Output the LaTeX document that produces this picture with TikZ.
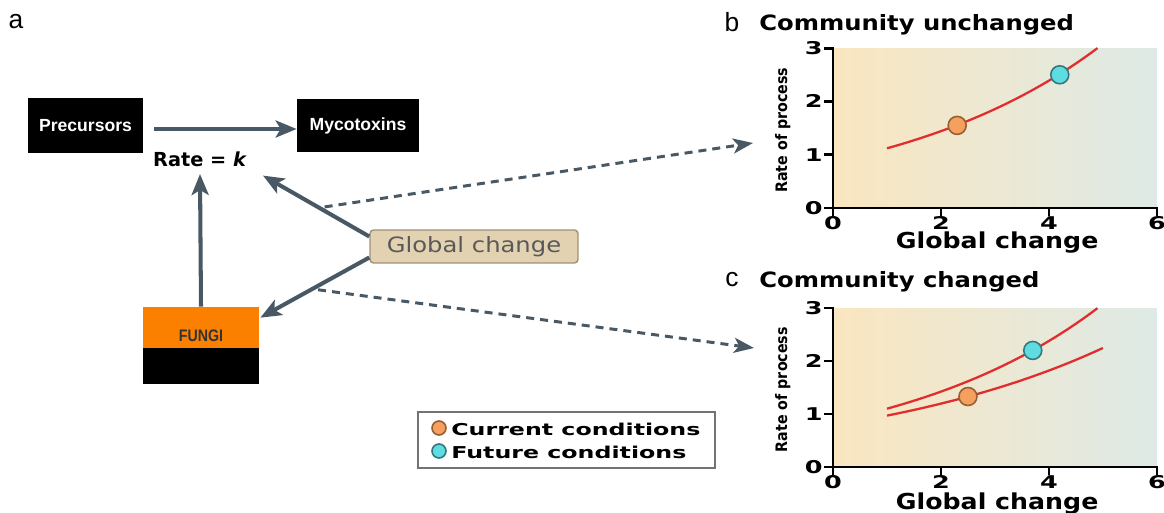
\documentclass[tikz,border=0pt]{standalone}
\usepackage{fontspec}
\setmainfont{DejaVu Sans}
\newfontfamily\boxfont{Liberation Sans}
\newfontfamily\fungifont[FakeStretch=0.85]{Liberation Sans}
\newfontfamily\widefont[FakeStretch=1.45]{DejaVu Sans}
\newfontfamily\plotfont[FakeStretch=1.15]{DejaVu Sans}
\newfontfamily\narrowfont[FakeStretch=0.9]{DejaVu Sans}
\usetikzlibrary{arrows.meta,positioning}

\definecolor{slate}{RGB}{72,88,100}
\definecolor{tanfill}{RGB}{226,210,178}
\definecolor{tanline}{RGB}{160,145,118}
\definecolor{fungiorange}{RGB}{252,128,0}
\definecolor{warmbg}{RGB}{250,230,192}
\definecolor{coolbg}{RGB}{222,234,230}
\definecolor{curvered}{RGB}{225,45,45}
\definecolor{nowfill}{RGB}{245,160,95}
\definecolor{nowline}{RGB}{150,95,50}
\definecolor{futfill}{RGB}{95,220,225}
\definecolor{futline}{RGB}{50,120,125}

\tikzset{
  blackbox/.style={fill=black, text=white, inner sep=0pt,
    font=\boxfont\bfseries\fontsize{10}{12}\selectfont},
  fungibox/.style={fill=fungiorange, text=black!80, inner sep=0pt,
    minimum width=2.32cm, minimum height=0.82cm, text height=0.58cm, text depth=0pt,
    font=\fungifont\bfseries\fontsize{9.5}{11}\selectfont},
  gcbox/.style={fill=tanfill, draw=tanline, line width=0.8pt, rounded corners=2pt,
    minimum width=4.16cm, minimum height=0.66cm, text=black!65,
    font=\plotfont\fontsize{12}{14}\selectfont},
  flow/.style={draw=slate, line width=2.3pt, -{Stealth[length=0.42cm,width=0.34cm,inset=0.1cm]}},
  dashflow/.style={draw=slate, line width=1.7pt, dash pattern=on 0.16cm off 0.12cm,
    -{Stealth[length=0.4cm,width=0.3cm,inset=0.1cm]}},
  axisline/.style={line width=1.6pt, line cap=rect},
  curve/.style={curvered, line width=1.3pt},
  nowdot/.style={fill=nowfill, draw=nowline, line width=0.9pt},
  futdot/.style={fill=futfill, draw=futline, line width=0.9pt},
  ticklbl/.style={font=\widefont\bfseries\fontsize{10}{12}\selectfont, inner sep=0.5pt},
  axlbl/.style={font=\plotfont\bfseries\fontsize{12.5}{14}\selectfont, inner sep=0pt},
  ylbl/.style={font=\narrowfont\bfseries\fontsize{9}{11}\selectfont, rotate=90, inner sep=0pt},
  ptitle/.style={font=\plotfont\bfseries\fontsize{12}{14}\selectfont, anchor=west, inner sep=0pt},
  panel/.style={font=\boxfont\fontsize{15}{16}\selectfont, inner sep=0pt},
  keytext/.style={font=\widefont\bfseries\fontsize{9.3}{12}\selectfont, anchor=west, inner sep=0pt}
}

\begin{document}
\begin{tikzpicture}[x=0.02cm, y=-0.02cm]
\useasboundingbox (0,0) rectangle (1164,513);

% panel a
\node (amark) [panel] at (16,22) {a};
\node (prec) [blackbox, minimum width=2.3cm, minimum height=1.1cm] at (85.5,125.5) {Precursors};
\node (myco) [blackbox, minimum width=2.44cm, minimum height=1.06cm] at (358,125.5) {Mycotoxins};
\node (rate) [font=\bfseries\fontsize{11}{13}\selectfont, inner sep=1pt] at (200,159) {Rate = \textit{k}};
\node (fungi) [fungibox] at (201,327.5) {FUNGI};
\fill[black] (fungi.south west) rectangle ++(116,36);
\node (glob) [gcbox] at (474,246.5) {Global change};

\draw[flow, shorten <=0.22cm] (prec.east |- 0,129) -- (myco.west |- 0,129);
\draw[flow] (fungi.north) -- (rate.south |- 0,174);

\path (rate.south east) ++(14,7) coordinate (rateIn);
\path (fungi.north east) ++(1,11) coordinate (fungiIn);
\path (glob.west) ++(0,-10) coordinate (globTop);
\path (glob.west) ++(0,11) coordinate (globBot);
\draw[flow] (globTop) -- (rateIn) coordinate[pos=0.42] (dashB);
\draw[flow] (globBot) -- (fungiIn) coordinate[pos=0.47] (dashC);

\coordinate (bIn) at (753,143);
\coordinate (cIn) at (754,348);
\draw[dashflow] (dashB) ++(0,-4) -- (bIn);
\draw[dashflow] (dashC) ++(0,4) -- (cIn);

% legend
\node (key) [draw=black!55, line width=0.7pt, minimum width=5.94cm, minimum height=1.12cm] at (566.5,440) {};
\filldraw[nowdot] (439,428) circle [radius=0.14cm];
\filldraw[futdot] (439,451) circle [radius=0.14cm];
\node (nowKey) [keytext] at (451,429) {Current conditions};
\node (futKey) [keytext] at (451,452) {Future conditions};

% panel b
\node (bmark) [panel] at (732,22) {b};
\node (btitle) [ptitle] at (759,25) {Community unchanged};
\begin{scope}[shift={(833,208)}, x=1.08cm, y=1.066cm]
  \shade[left color=warmbg, right color=coolbg] (0,0) rectangle (6,3);
  \draw[axisline] (0,3) -- (0,0) -- (6,0);
  \foreach \t in {0,2,4,6}
    \draw[axisline] (\t,0) -- ++(0,-0.12) node (bx\t) [below, ticklbl] {\t};
  \foreach \t in {0,1,2,3}
    \draw[axisline] (0,\t) -- ++(-0.15,0) node (by\t) [left, ticklbl] {\t};
  \draw[curve, domain=1:4.9, samples=40] plot (\x, {0.87*exp(0.2527*\x)});
  \filldraw[nowdot] (2.3,1.55) circle [radius=0.18cm];
  \filldraw[futdot] (4.2,2.5) circle [radius=0.18cm];
  \node (bylab) [ylbl] at (-0.93,1.46) {Rate of process};
  \node (bxlab) [axlbl] at (3.04,-0.64) {Global change};
\end{scope}

% panel c
\node (cmark) [panel] at (732,280) {c};
\node (ctitle) [ptitle] at (759,282) {Community changed};
\begin{scope}[shift={(833,467)}, x=1.08cm, y=1.06cm]
  \shade[left color=warmbg, right color=coolbg] (0,0) rectangle (6,3);
  \draw[axisline] (0,3) -- (0,0) -- (6,0);
  \foreach \t in {0,2,4,6}
    \draw[axisline] (\t,0) -- ++(0,-0.12) node (cx\t) [below, ticklbl] {\t};
  \foreach \t in {0,1,2,3}
    \draw[axisline] (0,\t) -- ++(-0.15,0) node (cy\t) [left, ticklbl] {\t};
  \draw[curve, domain=1:4.9, samples=40] plot (\x, {0.851*exp(0.257*\x)});
  \draw[curve, domain=1:5, samples=40] plot (\x, {0.786*exp(0.21*\x)});
  \filldraw[nowdot] (2.5,1.33) circle [radius=0.18cm];
  \filldraw[futdot] (3.7,2.2) circle [radius=0.18cm];
  \node (cylab) [ylbl] at (-0.93,1.46) {Rate of process};
  \node (cxlab) [axlbl] at (3.04,-0.68) {Global change};
\end{scope}
\end{tikzpicture}
\end{document}
